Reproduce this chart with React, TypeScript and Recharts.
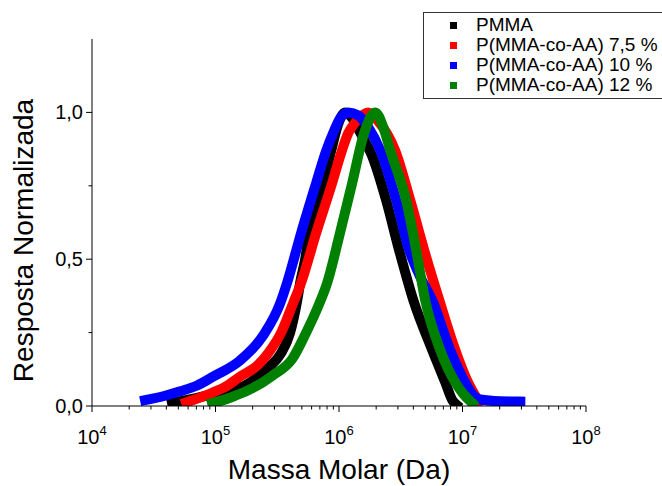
import React from "react";
import { LineChart, Line, XAxis, YAxis, Legend, Label } from "recharts";

const FONT = "'Liberation Sans', Arial, sans-serif";

// [massa molar (Da), resposta normalizada]
const pmma: [number, number][] = [
  [4.45e4, 0.01], [7.5e4, 0.03], [1.2e5, 0.05], [1.74e5, 0.07], [2.21e5, 0.1],
  [2.67e5, 0.13], [3.4e5, 0.18], [4.02e5, 0.25], [4.59e5, 0.36], [4.85e5, 0.42],
  [5.32e5, 0.5], [5.74e5, 0.59], [6.54e5, 0.68], [7.45e5, 0.76], [8.65e5, 0.87],
  [9.67e5, 0.95], [1.12e6, 1.0], [1.28e6, 0.98], [1.49e6, 0.93], [1.86e6, 0.85],
  [2.41e6, 0.7], [3.07e6, 0.53], [4.0e6, 0.36], [5.69e6, 0.19], [7.26e6, 0.08],
  [8.27e6, 0.02], [8.91e6, 0.005],
];

const aa75: [number, number][] = [
  [5.78e4, 0.012], [7.1e4, 0.025], [9.39e4, 0.045], [1.2e5, 0.065], [1.58e5, 0.1],
  [2.21e5, 0.14], [2.67e5, 0.18], [3.4e5, 0.25], [4.25e5, 0.35], [4.94e5, 0.42],
  [6.54e5, 0.59], [8.81e5, 0.76], [1.02e6, 0.85], [1.19e6, 0.93], [1.38e6, 0.97],
  [1.72e6, 1.0], [2.08e6, 0.97], [2.85e6, 0.87], [3.78e6, 0.7], [4.9e6, 0.53],
  [6.49e6, 0.36], [8.75e6, 0.19], [1.11e7, 0.08], [1.25e7, 0.04], [1.37e7, 0.015],
];

const aa10: [number, number][] = [
  [2.69e4, 0.02], [3.9e4, 0.035], [5.17e4, 0.05], [7.1e4, 0.07], [9.56e4, 0.1],
  [1.58e5, 0.155], [2.43e5, 0.24], [3.34e5, 0.35], [3.8e5, 0.42], [4.94e5, 0.59],
  [6.54e5, 0.76], [7.88e5, 0.87], [8.97e5, 0.93], [1.02e6, 0.98], [1.19e6, 1.0],
  [1.43e6, 0.99], [1.72e6, 0.95], [2.16e6, 0.87], [2.91e6, 0.7], [3.71e6, 0.53],
  [4.55e6, 0.44], [5.69e6, 0.36], [7.96e6, 0.19], [1.05e7, 0.08], [1.2e7, 0.04],
  [1.39e7, 0.022], [2.02e7, 0.016], [2.94e7, 0.015],
];

const aa12: [number, number][] = [
  [9.39e4, 0.01], [1.15e5, 0.02], [1.44e5, 0.035], [1.98e5, 0.06], [2.93e5, 0.105],
  [4.18e5, 0.16], [5.42e5, 0.25], [6.79e5, 0.34], [8.03e5, 0.42], [1.02e6, 0.59],
  [1.28e6, 0.76], [1.6e6, 0.93], [1.97e6, 1.0], [2.28e6, 0.95], [2.6e6, 0.87],
  [3.5e6, 0.7], [4.22e6, 0.53], [4.99e6, 0.36], [6.61e6, 0.19], [8.75e6, 0.08],
  [1.02e7, 0.04], [1.2e7, 0.01],
];

const SERIES = [
  { name: "PMMA", points: pmma, color: "#000000" },
  { name: "P(MMA-co-AA) 7,5 %", points: aa75, color: "#ff0000" },
  { name: "P(MMA-co-AA) 10 %", points: aa10, color: "#0000ff" },
  { name: "P(MMA-co-AA) 12 %", points: aa12, color: "#008000" },
];

const DECADES = [1e4, 1e5, 1e6, 1e7, 1e8];
const EXPONENTS = ["4", "5", "6", "7", "8"];
const MINOR_STEPS = [2, 3, 4, 5, 6, 7, 8, 9];
const X_TICKS = [
  ...DECADES,
  ...DECADES.slice(0, -1).flatMap((d) => MINOR_STEPS.map((m) => m * d)),
].sort((a, b) => a - b);

const Y_MAJOR = [0, 0.5, 1];
const Y_LABELS = ["0,0", "0,5", "1,0"];
const Y_TICKS = [0, 0.25, 0.5, 0.75, 1];

function XTick(props: any) {
  const { x, y, payload } = props;
  const i = DECADES.indexOf(payload.value);
  const major = i >= 0;
  return (
    <g>
      <line x1={x} y1={y} x2={x} y2={y + (major ? 6 : 3.5)} stroke="#000" />
      {major && (
        <text x={x} y={y + 38} textAnchor="middle" fontSize={20} fontFamily={FONT} fill="#000">
          10
          <tspan dy={-9} fontSize={13}>
            {EXPONENTS[i]}
          </tspan>
        </text>
      )}
    </g>
  );
}

function YTick(props: any) {
  const { x, y, payload } = props;
  const i = Y_MAJOR.indexOf(payload.value);
  const major = i >= 0;
  return (
    <g>
      <line x1={x - (major ? 6 : 3.5)} y1={y} x2={x} y2={y} stroke="#000" />
      {major && (
        <text x={x - 9} y={y + 7} textAnchor="end" fontSize={20} fontFamily={FONT} fill="#000">
          {Y_LABELS[i]}
        </text>
      )}
    </g>
  );
}

function LegendBox() {
  return (
    <div
      style={{
        width: 260,
        height: 87,
        boxSizing: "border-box",
        border: "1px solid #333",
        background: "#fff",
        paddingTop: 2,
        fontFamily: FONT,
        fontSize: 19,
        lineHeight: "20px",
        color: "#000",
        whiteSpace: "nowrap",
      }}
    >
      {SERIES.map((s) => (
        <div key={s.name} style={{ display: "flex", alignItems: "center", height: 20 }}>
          <span
            style={{ width: 7, height: 7, background: s.color, marginLeft: 26, marginRight: 19 }}
          />
          <span style={{ lineHeight: "20px", height: 20 }}>{s.name}</span>
        </div>
      ))}
    </div>
  );
}

export default function App() {
  return (
    <div
      style={{
        position: "absolute",
        left: 0,
        top: 0,
        width: 662,
        height: 486,
        overflow: "hidden",
        background: "#fff",
      }}
    >
      <LineChart width={662} height={486} margin={{ top: 39, right: 76, bottom: 0, left: 0 }}>
        <XAxis
          type="number"
          dataKey="m"
          scale="log"
          domain={[1e4, 1e8]}
          ticks={X_TICKS}
          interval={0}
          allowDataOverflow
          height={80}
          tickSize={0}
          tickMargin={0}
          tickLine={false}
          tick={(p: any) => <XTick {...p} />}
          axisLine={{ stroke: "#000" }}
        >
          <Label
            content={(p: any) => (
              <text
                x={p.viewBox.x + p.viewBox.width / 2}
                y={p.viewBox.y + 73}
                textAnchor="middle"
                fontSize={28}
                fontFamily={FONT}
                fill="#000"
              >
                Massa Molar (Da)
              </text>
            )}
          />
        </XAxis>
        <YAxis
          type="number"
          domain={[0, 1.25]}
          ticks={Y_TICKS}
          interval={0}
          allowDataOverflow
          width={92}
          tickSize={0}
          tickMargin={0}
          tickLine={false}
          tick={(p: any) => <YTick {...p} />}
          axisLine={{ stroke: "#000" }}
        >
          <Label
            content={(p: any) => {
              const cy = p.viewBox.y + p.viewBox.height / 2 + 18;
              return (
                <text
                  x={33}
                  y={cy}
                  transform={`rotate(-90, 33, ${cy})`}
                  textAnchor="middle"
                  fontSize={28}
                  fontFamily={FONT}
                  fill="#000"
                >
                  Resposta Normalizada
                </text>
              );
            }}
          />
        </YAxis>
        {SERIES.map((s) => (
          <Line
            key={s.name}
            name={s.name}
            data={s.points.map(([m, r]) => ({ m, r }))}
            dataKey="r"
            type="monotone"
            stroke={s.color}
            strokeWidth={10}
            strokeLinecap="square"
            strokeLinejoin="round"
            dot={false}
            activeDot={false}
            isAnimationActive={false}
          />
        ))}
        <Legend
          layout="vertical"
          align="center"
          verticalAlign="middle"
          content={() => <LegendBox />}
          wrapperStyle={{ left: 423, top: 12, width: 260 }}
        />
      </LineChart>
    </div>
  );
}
